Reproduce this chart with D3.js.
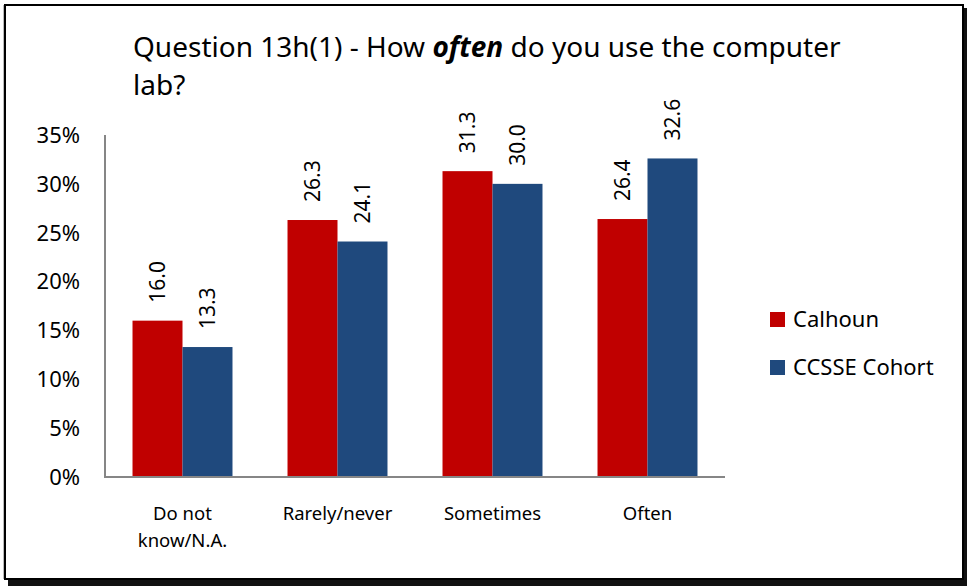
<!DOCTYPE html>
<html><head><meta charset="utf-8">
<script src="https://cdn.jsdelivr.net/npm/d3@7"></script>
<style>
html,body{margin:0;padding:0;background:#fff;}
svg{display:block;font-family:"Noto Sans","Open Sans",sans-serif;}
</style></head>
<body>
<svg id="chart" width="967" height="586"></svg>
<script>
const categories = ["Do not know/N.A.", "Rarely/never", "Sometimes", "Often"];
const categoryLines = [["Do not", "know/N.A."], ["Rarely/never"], ["Sometimes"], ["Often"]];
const seriesNames = ["Calhoun", "CCSSE Cohort"];
const calhoun = [16.0, 26.3, 31.3, 26.4];
const ccsse = [13.3, 24.1, 30.0, 32.6];
const yTicks = [0, 5, 10, 15, 20, 25, 30, 35];
const colors = ["#C00000", "#1F497D"];

const svg = d3.select("#chart");

// frame with shadow
svg.append("rect").attr("x", 8).attr("y", 8).attr("width", 959).attr("height", 578).attr("fill", "#111");
svg.append("rect").attr("x", 3).attr("y", 5).attr("width", 2).attr("height", 574).attr("fill", "#bbb");
svg.append("rect").attr("x", 5).attr("y", 5).attr("width", 958).attr("height", 574)
  .attr("fill", "#fff").attr("stroke", "#000").attr("stroke-width", 2);

// title
const title = svg.append("text").attr("x", 133).attr("y", 57).attr("font-size", 28).attr("fill", "#000");
title.append("tspan").text("Question 13h(1) - How ");
title.append("tspan").attr("font-weight", "bold").attr("font-style", "italic").text("often");
title.append("tspan").text(" do you use the computer");
svg.append("text").attr("x", 133).attr("y", 95).attr("font-size", 28).attr("fill", "#000").text("lab?");

const x0 = d3.scaleBand().domain(categories).range([105, 725]).paddingInner(0.355).paddingOuter(0.1775);
const x1 = d3.scaleBand().domain(seriesNames).range([0, x0.bandwidth()]);
const y = d3.scaleLinear().domain([0, 35]).range([477, 135]);

// y tick labels
svg.append("g").selectAll("text").data(yTicks).join("text")
  .attr("x", 80).attr("y", d => y(d)).attr("dy", "0.36em")
  .attr("text-anchor", "end").attr("font-size", 22).attr("fill", "#000")
  .text(d => d + "%");

const data = categories.map((c, i) => ({c, vals: [calhoun[i], ccsse[i]]}));

const g = svg.append("g");
data.forEach(d => {
  d.vals.forEach((v, j) => {
    const bx = x0(d.c) + x1(seriesNames[j]);
    g.append("rect").attr("x", bx).attr("y", y(v))
      .attr("width", x1.bandwidth()).attr("height", y(0) - y(v))
      .attr("fill", colors[j]);
    const cx = bx + x1.bandwidth() / 2;
    const ly = y(v) - 18;
    g.append("text").attr("transform", `translate(${cx},${ly}) rotate(-90)`)
      .attr("dy", "0.36em").attr("font-size", 21).attr("fill", "#000")
      .text(v.toFixed(1));
  });
});

// axes lines
svg.append("line").attr("x1", 105).attr("x2", 105).attr("y1", y(35)).attr("y2", y(0))
  .attr("stroke", "#868686").attr("stroke-width", 2);
svg.append("line").attr("x1", 104).attr("x2", 725).attr("y1", y(0)).attr("y2", y(0))
  .attr("stroke", "#868686").attr("stroke-width", 2);

// x labels
categories.forEach((c, i) => {
  const cx = x0(c) + x0.bandwidth() / 2;
  categoryLines[i].forEach((ln, k) => {
    svg.append("text").attr("x", cx).attr("y", 520 + k * 27)
      .attr("text-anchor", "middle").attr("font-size", 18.5).attr("fill", "#000").text(ln);
  });
});

// legend
seriesNames.forEach((s, j) => {
  const cy = 319.5 + j * 48;
  svg.append("rect").attr("x", 770).attr("y", cy - 7.5).attr("width", 15).attr("height", 15).attr("fill", colors[j]);
  svg.append("text").attr("x", 793).attr("y", cy).attr("dy", "0.36em")
    .attr("font-size", 22).attr("fill", "#000").text(s);
});
</script>
</body></html>
